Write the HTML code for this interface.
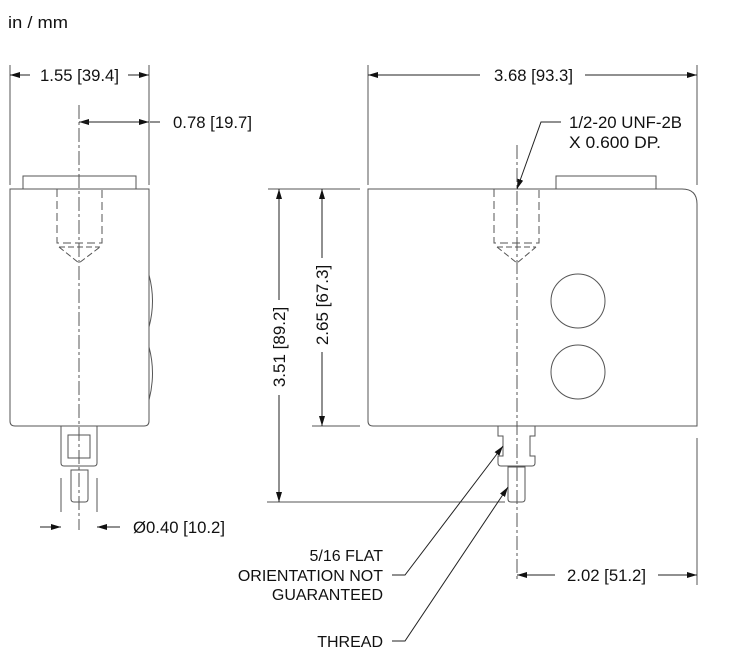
<!DOCTYPE html>
<html><head><meta charset="utf-8"><style>
html,body{margin:0;padding:0;background:#fff;}
svg{display:block;}
.n{font-family:"Liberation Sans Narrow","Liberation Sans",sans-serif;font-size:17px;fill:#111;}
.w{font-family:"Liberation Sans",sans-serif;font-size:16px;fill:#111;}
</style></head><body>
<svg width="735" height="652" viewBox="0 0 735 652" xmlns="http://www.w3.org/2000/svg">
<defs>
<marker id="a" viewBox="0 0 10 6" refX="10" refY="3" markerWidth="10" markerHeight="6" orient="auto-start-reverse" markerUnits="userSpaceOnUse"><path d="M0,0L10,3L0,6z" fill="#111"/></marker>
</defs>
<text x="8" y="28" class="w" style="font-size:17px" textLength="60" lengthAdjust="spacingAndGlyphs">in / mm</text>
<g stroke="#555" stroke-width="1" fill="none">
<rect x="23" y="176" width="113" height="13"/>
<path d="M10,189H149V421Q149,426 144,426H15Q10,426 10,421Z"/>
<path d="M57,189V243H102V189" stroke-dasharray="8,4"/>
<path d="M59,247H100M59,247L79,263L100,247" stroke-dasharray="6,3"/>
<path d="M149,275Q156,301 149,327M149,347Q156,373 149,400"/>
<path d="M61,426V463Q61,466 64,466H94Q97,466 97,463V426"/>
<rect x="68" y="435" width="22" height="23"/>
<path d="M71,470H88V499Q88,502 85,502H74Q71,502 71,499Z"/>
<path d="M79,105V530" stroke-dasharray="14,3,3,3"/>
<path d="M10,65V185M149,65V185M61,478V512M97,478V512"/>
<rect x="556" y="176" width="100" height="13"/>
<path d="M368,189H682Q697,189 697,204V426H373Q368,426 368,421Z"/>
<path d="M494,189V243H539V189" stroke-dasharray="8,4"/>
<path d="M497,247H536M497,247L517,263L536,247" stroke-dasharray="6,3"/>
<circle cx="578" cy="301" r="27"/>
<circle cx="578" cy="372" r="27"/>
<path d="M498,426V436H503V456H498V463Q498,466 501,466H532Q535,466 535,463V456H530V436H535V426"/>
<path d="M508,467H525V499Q525,502 522,502H511Q508,502 508,499Z"/>
<path d="M517,145V580" stroke-dasharray="14,3,3,3"/>
<path d="M368,65V185M697,65V185M697,438V585"/>
<path d="M268,189H360M267,502H505M312,426H360"/>
</g>
<g stroke="#222" stroke-width="1" fill="none">
<path d="M30,75H10" marker-end="url(#a)"/>
<path d="M128,75H149" marker-end="url(#a)"/>
<path d="M100,122H79" marker-end="url(#a)"/>
<path d="M79,122H149" marker-end="url(#a)"/>
<path d="M150,122H160"/>
<path d="M40,527H61" marker-end="url(#a)"/>
<path d="M120,527H97" marker-end="url(#a)"/>
<path d="M480,75H368" marker-end="url(#a)"/>
<path d="M585,75H697" marker-end="url(#a)"/>
<path d="M561,122H541L517,189" marker-end="url(#a)"/>
<path d="M279,300V189" marker-end="url(#a)"/>
<path d="M279,395V502" marker-end="url(#a)"/>
<path d="M322,258V189" marker-end="url(#a)"/>
<path d="M322,352V426" marker-end="url(#a)"/>
<path d="M555,575H517" marker-end="url(#a)"/>
<path d="M658,575H697" marker-end="url(#a)"/>
<path d="M392,575H405L503,446" marker-end="url(#a)"/>
<path d="M392,641H405L508,487" marker-end="url(#a)"/>
</g>
<text x="40" y="81" class="n" textLength="79" lengthAdjust="spacingAndGlyphs">1.55 [39.4]</text>
<text x="173" y="128" class="n" textLength="79" lengthAdjust="spacingAndGlyphs">0.78 [19.7]</text>
<text x="133" y="533" class="n" textLength="92" lengthAdjust="spacingAndGlyphs">Ø0.40 [10.2]</text>
<text x="494" y="81" class="n" textLength="79" lengthAdjust="spacingAndGlyphs">3.68 [93.3]</text>
<text x="569" y="128" class="n" textLength="113" lengthAdjust="spacingAndGlyphs">1/2-20 UNF-2B</text>
<text x="569" y="148" class="n" textLength="92" lengthAdjust="spacingAndGlyphs">X 0.600 DP.</text>
<text class="n" transform="translate(285,347) rotate(-90)" text-anchor="middle">3.51 [89.2]</text>
<text class="n" transform="translate(328,305) rotate(-90)" text-anchor="middle">2.65 [67.3]</text>
<text x="567" y="581" class="n" textLength="79" lengthAdjust="spacingAndGlyphs">2.02 [51.2]</text>
<text x="383" y="561" class="w" text-anchor="end">5/16 FLAT</text>
<text x="383" y="581" class="w" text-anchor="end">ORIENTATION NOT</text>
<text x="383" y="600" class="w" text-anchor="end">GUARANTEED</text>
<text x="383" y="647" class="w" text-anchor="end">THREAD</text>
</svg>
</body></html>
